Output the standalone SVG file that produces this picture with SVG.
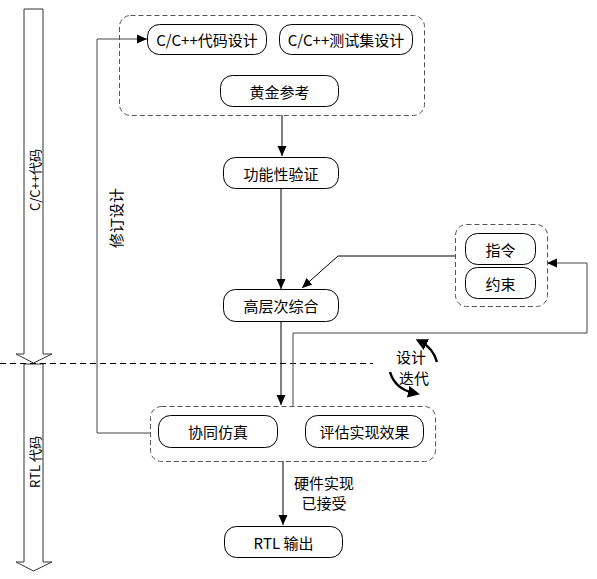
<svg xmlns="http://www.w3.org/2000/svg" width="597" height="579" viewBox="0 0 597 579">
<style>
.t{font-family:"Noto Sans CJK SC","Microsoft YaHei",sans-serif;font-size:15px;fill:#000;text-anchor:middle;dominant-baseline:central}
.s{font-size:13px}
.box{fill:#fff;stroke:#000;stroke-width:1}
.grp{fill:none;stroke:#555;stroke-width:1;stroke-dasharray:5,3}
.ln{fill:none;stroke:#000;stroke-width:1}
.gl{fill:none;stroke:#444;stroke-width:1}
.blk{fill:#fff;stroke:#333;stroke-width:1}
.cur{fill:none;stroke:#000;stroke-width:2.5}
</style>
<defs>
<marker id="ah" viewBox="0 0 10 10" refX="10" refY="5" markerWidth="10" markerHeight="10" markerUnits="userSpaceOnUse" orient="auto">
<path d="M0,0.5 L10,5 L0,9.5 z" fill="#000"/>
</marker>
<marker id="ch" viewBox="0 0 10 10" refX="5" refY="5" markerWidth="12" markerHeight="12" markerUnits="userSpaceOnUse" orient="auto">
<path d="M0,0 L10,5 L0,10 z" fill="#000"/>
</marker>
</defs>

<g id="lane-arrows">
<path class="blk" d="M24,9 H43 V354 H52 L33.5,363 L16,354 H24 Z"/>
<path class="blk" d="M24,364 H43 V562 H52 L33.5,571 L16,562 H24 Z"/>
<text class="t s" transform="translate(34,180) rotate(-90)">C/C++代码</text>
<text class="t s" transform="translate(34,462) rotate(-90)">RTL 代码</text>
</g>

<g id="divider">
<line x1="0" y1="363.5" x2="373" y2="363.5" stroke="#000" stroke-width="1" stroke-dasharray="6,4"/>
</g>

<g id="connectors">
<path class="ln" d="M282,115 V156" marker-end="url(#ah)"/>
<path class="ln" d="M281,188 V289" marker-end="url(#ah)"/>
<path class="ln" d="M455,256 H338 L302,288" marker-end="url(#ah)"/>
<path class="ln" d="M281,321 V405" marker-end="url(#ah)"/>
<path class="gl" d="M293,406 V333 H587 V263 H547" marker-end="url(#ah)"/>
<path class="gl" d="M150,433 H97 V39 H147" marker-end="url(#ah)"/>
<path class="ln" d="M283,461 V525" marker-end="url(#ah)"/>
<text class="t" x="324" y="482">硬件实现</text>
<text class="t" x="324" y="502">已接受</text>
<text class="t" transform="translate(115,218) rotate(-90)">修订设计</text>
</g>

<g id="iterate">
<path class="cur" d="M437,362 Q433,348 421,342" marker-end="url(#ch)"/>
<path class="cur" d="M390,372 Q395,389 414,393" marker-end="url(#ch)"/>
<text class="t" x="411" y="356">设计</text>
<text class="t" x="414" y="377">迭代</text>
</g>

<g id="group-top">
<rect class="grp" x="119.5" y="15.5" width="305" height="100" rx="11"/>
</g>
<g id="node-ccode">
<rect class="box" x="147.5" y="24.5" width="119" height="30" rx="12"/>
<text class="t" x="207" y="39.5">C/C++代码设计</text>
</g>
<g id="node-ctest">
<rect class="box" x="279.5" y="24.5" width="133" height="30" rx="12"/>
<text class="t" x="346" y="39.5">C/C++测试集设计</text>
</g>
<g id="node-golden">
<rect class="box" x="220.5" y="75.5" width="118" height="31" rx="12"/>
<text class="t" x="279.5" y="91">黄金参考</text>
</g>
<g id="node-func">
<rect class="box" x="223.5" y="157.5" width="115" height="31" rx="12"/>
<text class="t" x="281" y="173">功能性验证</text>
</g>
<g id="node-hls">
<rect class="box" x="223.5" y="289.5" width="115" height="32" rx="12"/>
<text class="t" x="281" y="305.5">高层次综合</text>
</g>
<g id="group-constraint">
<rect class="grp" x="455.5" y="224.5" width="92" height="82" rx="11"/>
</g>
<g id="node-directive">
<rect class="box" x="465.5" y="233.5" width="70" height="31" rx="12"/>
<text class="t" x="500.5" y="249">指令</text>
</g>
<g id="node-constraint">
<rect class="box" x="465.5" y="267.5" width="70" height="31" rx="12"/>
<text class="t" x="500.5" y="283">约束</text>
</g>
<g id="group-bottom">
<rect class="grp" x="150.5" y="406.5" width="285" height="55" rx="11"/>
</g>
<g id="node-cosim">
<rect class="box" x="158.5" y="415.5" width="119" height="32" rx="12"/>
<text class="t" x="218" y="431.5">协同仿真</text>
</g>
<g id="node-eval">
<rect class="box" x="305.5" y="415.5" width="118" height="32" rx="12"/>
<text class="t" x="364.5" y="431.5">评估实现效果</text>
</g>
<g id="node-rtl">
<rect class="box" x="224.5" y="526.5" width="118" height="31" rx="12"/>
<text class="t" x="283.5" y="542">RTL 输出</text>
</g>
</svg>
